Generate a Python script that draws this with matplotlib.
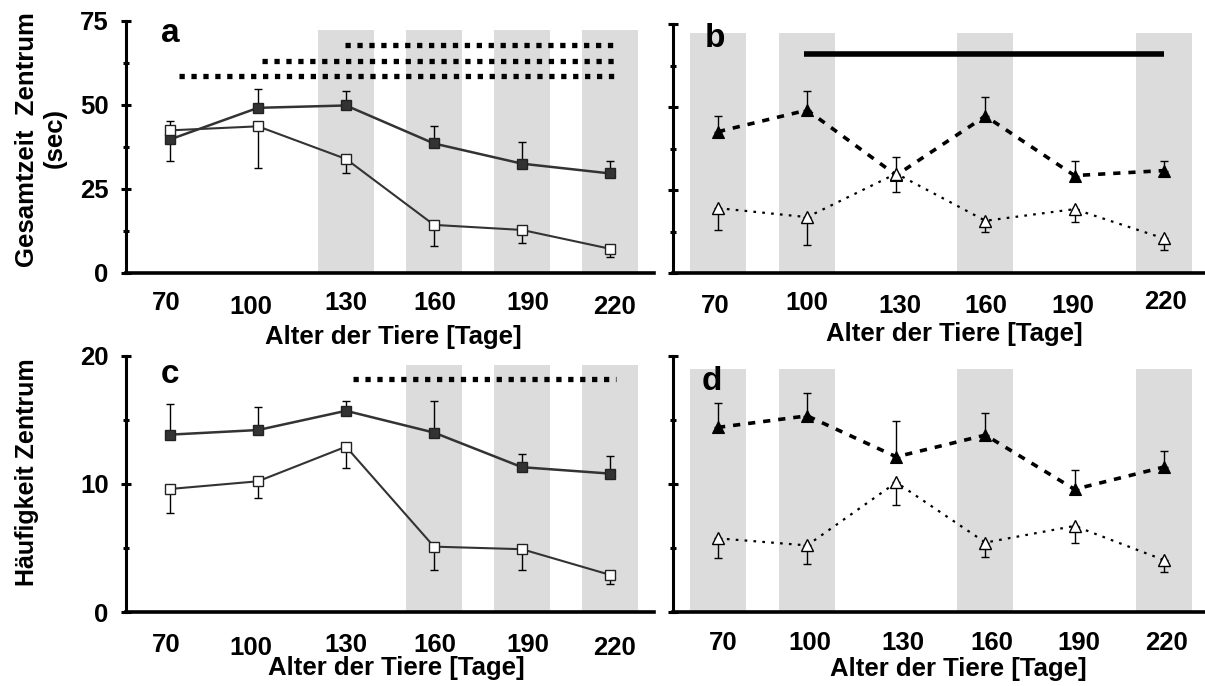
import matplotlib
matplotlib.use("Agg")
import matplotlib.pyplot as plt
import numpy as np

plt.rcParams['font.family'] = ['Liberation Sans', 'DejaVu Sans']
plt.rcParams['font.weight'] = 'bold'

ages = [70, 100, 130, 160, 190, 220]
age_labels = ['70', '100', '130', '160', '190', '220']

# Panel a: Gesamtzeit Zentrum (sec), squares
a_filled = [39.7, 49.1, 49.8, 38.5, 32.5, 29.6]
a_filled_err = [5.5, 5.6, 4.2, 5.3, 6.5, 3.6]
a_open = [42.4, 43.6, 33.9, 14.3, 12.8, 7.2]
a_open_err = [9.2, 12.4, 4.2, 6.3, 3.8, 2.5]

# Panel b: triangles
b_filled = [42.6, 49.1, 29.5, 47.3, 29.4, 30.9]
b_filled_err = [4.8, 5.8, 5.6, 5.6, 4.4, 2.9]
b_open = [19.6, 16.9, 30.0, 15.8, 19.3, 10.5]
b_open_err = [6.6, 8.4, 5.6, 3.3, 4.0, 3.5]

# Panel c: Häufigkeit Zentrum, squares
c_filled = [13.84, 14.2, 15.7, 14.0, 11.3, 10.8]
c_filled_err = [2.36, 1.8, 0.8, 2.5, 1.0, 1.4]
c_open = [9.6, 10.2, 12.9, 5.1, 4.9, 2.9]
c_open_err = [1.9, 1.3, 1.7, 1.8, 1.6, 0.7]

# Panel d: triangles
d_filled = [14.4, 15.3, 12.1, 13.8, 9.56, 11.3]
d_filled_err = [1.9, 1.8, 2.8, 1.7, 1.54, 1.25]
d_open = [5.73, 5.18, 10.1, 5.4, 6.7, 4.04]
d_open_err = [1.56, 1.48, 1.77, 1.16, 1.3, 0.94]

# shaded age bands
a_bands = [130, 160, 190, 220]
b_bands = [70, 100, 160, 220]
c_bands = [160, 190, 220]
d_bands = [70, 100, 160, 220]

# significance bars: (start, end, y)
a_sig = [(129.7, 221.8, 67.9), (101.4, 221.8, 63.1), (73.0, 221.8, 58.7)]
b_sig = [(99.0, 220.0, 65.9)]
c_sig = [(132.4, 222.0, 18.2)]

W, H = 1205, 686
fig = plt.figure(figsize=(W / 100, H / 100), dpi=100)

def px_axes(l, r, t, b):
    return fig.add_axes([l / W, 1 - b / H, (r - l) / W, (b - t) / H])

ax_a = px_axes(126, 654, 20.7, 273)
ax_b = px_axes(673, 1205, 24, 273.3)
ax_c = px_axes(126, 654, 355.7, 612)
ax_d = px_axes(673, 1205, 355.7, 611.7)

GRAY = '#dcdcdc'
LINE = '#333333'
FS = 18.5

# tick label placement (pixels): x offset per label, baseline below axis per label
lab_dx = {'a': [-3.5, -7, -0.5, 1, 6, 4], 'b': [-2.4, -0.5, 4, 0, -1.4, 2],
          'c': [-3.5, -7, -0.5, 1, 6, 4], 'd': [5, 2.5, 7, 6, 4.6, 2.4]}
lab_base = {'a': [37, 40.5, 37, 37, 37, 40.5], 'b': [40, 36.5, 40, 40, 40, 36],
            'c': [39.6, 43, 39.6, 39.6, 39.6, 43], 'd': [38.3] * 6}

def style(ax, key, xlim, ymax, yticks, yminor, labels):
    ax.set_xlim(*xlim)
    ax.set_ylim(0, ymax)
    for s in ['top', 'right']:
        ax.spines[s].set_visible(False)
    ax.spines['left'].set_linewidth(2.2)
    ax.spines['bottom'].set_linewidth(2.6)
    ax.set_xticks(ages)
    ax.set_xticklabels([])
    ax.tick_params(axis='x', length=0)
    for x, lab, dx, base in zip(ages, age_labels, lab_dx[key], lab_base[key]):
        ax.annotate(lab, xy=(x, 0), xycoords=('data', 'axes fraction'),
                    xytext=(dx * 0.72, -base * 0.72), textcoords='offset points',
                    ha='center', va='baseline', fontsize=FS, fontweight='bold',
                    annotation_clip=False)
    ax.set_yticks(yticks)
    ax.set_yticks(yminor, minor=True)
    if labels:
        ax.set_yticklabels([str(v) for v in yticks], fontsize=FS, fontweight='bold')
    else:
        ax.set_yticklabels([])
    ax.tick_params(axis='y', which='major', direction='inout', length=7, width=2.2, pad=9)
    ax.tick_params(axis='y', which='minor', direction='inout', length=4, width=2.2)
    ax.patch.set_alpha(0)

def xlabel(ax, cx, base):
    ax.set_xlabel('Alter der Tiere [Tage]', fontsize=FS, fontweight='bold')
    ax.xaxis.set_label_coords(cx / W, 1 - base / H, transform=fig.transFigure)
    ax.xaxis.label.set_verticalalignment('baseline')

def ylabel(ax, text, cx, cy, fs=FS):
    ax.set_ylabel(text, fontsize=fs, fontweight='bold')
    ax.yaxis.set_label_coords(cx / W, 1 - cy / H, transform=fig.transFigure)
    ax.yaxis.label.set_verticalalignment('center')

def bands(ax, centers, top):
    for c in centers:
        ax.axvspan(c - 9.4, c + 9.4, ymin=0, ymax=top, color=GRAY, lw=0, zorder=0)

def errs(ax, filled, ferr, opn, oerr):
    ax.errorbar(ages, filled, yerr=[np.zeros(len(ferr)), ferr], fmt='none',
                ecolor='black', elinewidth=1.0, capsize=3, capthick=1.0, zorder=2)
    ax.errorbar(ages, opn, yerr=[oerr, np.zeros(len(oerr))], fmt='none',
                ecolor='black', elinewidth=1.0, capsize=3, capthick=1.0, zorder=2)

def squares(ax, filled, ferr, opn, oerr):
    errs(ax, filled, ferr, opn, oerr)
    ax.plot(ages, filled, '-', color=LINE, lw=1.8, marker='s', ms=7,
            mfc=LINE, mec='#222222', mew=1.0, zorder=3)
    ax.plot(ages, opn, '-', color=LINE, lw=1.5, marker='s', ms=7,
            mfc='white', mec='#222222', mew=1.0, zorder=3)

def triangles(ax, filled, ferr, opn, oerr):
    errs(ax, filled, ferr, opn, oerr)
    ax.plot(ages, filled, color='black', lw=2.6, ls=(0, (2.0, 2.2)), marker='^', ms=8.5,
            mfc='black', mec='black', mew=0.8, zorder=3)
    ax.plot(ages, opn, color='black', lw=1.6, ls=(0, (1.2, 2.8)), marker='^', ms=8.5,
            mfc='white', mec='black', mew=1.0, zorder=3)

def sig_dotted(ax, sigs):
    for x0, x1, y in sigs:
        ax.plot([x0, x1], [y, y], color='black', lw=3.8, ls=(0, (1.0, 1.26)),
                solid_capstyle='butt', dash_capstyle='butt', zorder=4)

def sig_solid(ax, sigs):
    for x0, x1, y in sigs:
        ax.plot([x0, x1], [y, y], color='black', lw=4.0, solid_capstyle='butt', zorder=4)

XL_L = (55, 235)
XL_R = (54.85, 233.9)

# panel a
style(ax_a, 'a', XL_L, 75, [0, 25, 50, 75], [12.5, 37.5, 62.5], True)
xlabel(ax_a, 393.7, 344)
bands(ax_a, a_bands, 72.3 / 75)
squares(ax_a, a_filled, a_filled_err, a_open, a_open_err)
sig_dotted(ax_a, a_sig)
ax_a.text(70, 71.2, 'a', fontsize=24, fontweight='bold', ha='center', va='center')
ylabel(ax_a, 'Gesamtzeit  Zentrum', 27, 140)
fig.text(55 / W, 1 - 138 / H, '(sec)', rotation=90, fontsize=FS, fontweight='bold',
         ha='center', va='center', rotation_mode='anchor')

# panel b
style(ax_b, 'b', XL_R, 75, [0, 25, 50, 75], [12.5, 37.5, 62.5], False)
xlabel(ax_b, 954, 341)
bands(ax_b, b_bands, 72.3 / 75)
triangles(ax_b, b_filled, b_filled_err, b_open, b_open_err)
sig_solid(ax_b, b_sig)
ax_b.text(69, 70.5, 'b', fontsize=24, fontweight='bold', ha='center', va='center')

# panel c
style(ax_c, 'c', XL_L, 20, [0, 10, 20], [5, 15], True)
xlabel(ax_c, 396, 675)
bands(ax_c, c_bands, 19.27 / 20)
squares(ax_c, c_filled, c_filled_err, c_open, c_open_err)
sig_dotted(ax_c, c_sig)
ax_c.text(70, 18.5, 'c', fontsize=24, fontweight='bold', ha='center', va='center')
ylabel(ax_c, 'Häufigkeit Zentrum', 27, 472, fs=18)

# panel d
style(ax_d, 'd', XL_R, 20, [0, 10, 20], [5, 15], False)
xlabel(ax_d, 958, 676)
bands(ax_d, d_bands, 19.0 / 20)
triangles(ax_d, d_filled, d_filled_err, d_open, d_open_err)
ax_d.text(68, 18.0, 'd', fontsize=24, fontweight='bold', ha='center', va='center')

fig.savefig('out.png', dpi=100)
